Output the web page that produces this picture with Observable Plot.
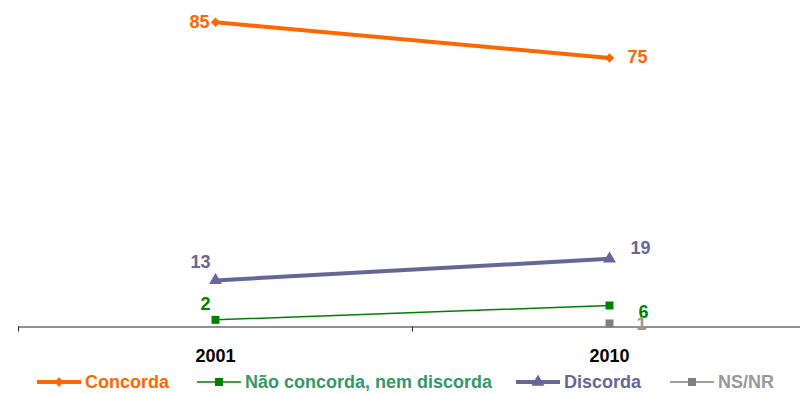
<!DOCTYPE html>
<html>
<head>
<meta charset="utf-8">
<script src="https://cdn.jsdelivr.net/npm/d3@7"></script>
<script src="https://cdn.jsdelivr.net/npm/@observablehq/plot@0.6"></script>
<style>
  body { margin: 0; background: #fff; font-family: "Liberation Sans", Arial, sans-serif; }
  #legend { position: relative; width: 800px; height: 24px; }
  .item { position: absolute; top: 0; height: 24px; display: flex; align-items: center; font-weight: bold; font-size: 18px; white-space: nowrap; }
  .item svg { margin-right: 4px; }
</style>
</head>
<body>
<div id="chart"></div>
<div id="legend"></div>
<script>
const years = ["2001", "2010"];
const seriesNames = ["Concorda", "Não concorda, nem discorda", "Discorda", "NS/NR"];
const concorda = [85, 75];
const naoConcorda = [2, 6];
const discorda = [13, 19];
const nsnr = [null, 1];

const seriesValues = [concorda, naoConcorda, discorda, nsnr];
const styles = [
  {stroke: "#FF6600", width: 4, symbol: "diamond2", r: 4.3, text: "#FF6600", legendText: "#FF6600"},
  {stroke: "#008000", width: 1.5, symbol: "square", r: 4.5, text: "#008000", legendText: "#339966"},
  {stroke: "#666699", width: 4, symbol: "triangle", r: 4.8, text: "#666699", legendText: "#666699"},
  {stroke: "#808080", width: 1.5, symbol: "square", r: 4.5, text: "#999999", legendText: "#999999"}
];
// label offsets (dx, dy, anchor) per series per year
const labelOffsets = [
  [[-6, 0, "end"], [18, -1, "start"]],
  [[-10, -16, "middle"], [34, 7, "middle"]],
  [[-15, -18, "middle"], [31, -11, "middle"]],
  [[0, 0, "middle"], [32, 1, "middle"]]
];

const data = [];
seriesValues.forEach((vals, s) => vals.forEach((v, i) => {
  if (v != null) data.push({series: seriesNames[s], s, i, x: i + 0.5, year: years[i], value: v,
    dx: labelOffsets[s][i][0], dy: labelOffsets[s][i][1], anchor: labelOffsets[s][i][2]});
}));

const marks = [
  Plot.ruleY([0], {x1: 0, x2: 2, stroke: "#222", strokeWidth: 1}),
  Plot.axisX({ticks: [0, 1, 2], tickSize: 5, tickFormat: () => "", stroke: "#222", label: null}),
  Plot.axisX({ticks: years.map((d, i) => i + 0.5), tickSize: 0, tickPadding: 22, label: null,
    tickFormat: (d) => years[Math.floor(d)], fontSize: 18, fontWeight: "bold", fill: "#000"})
];
seriesNames.forEach((name, s) => {
  const d = data.filter(e => e.s === s);
  const st = styles[s];
  marks.push(Plot.line(d, {x: "x", y: "value", stroke: st.stroke, strokeWidth: st.width}));
  marks.push(Plot.dot(d, {x: "x", y: "value", symbol: () => st.symbol, r: st.r, fill: st.stroke, stroke: "none"}));
  d.forEach(e => {
    marks.push(Plot.text([e], {x: "x", y: "value", text: e => String(e.value), dx: e.dx, dy: e.dy,
      textAnchor: e.anchor, fill: st.text, fontSize: 18, fontWeight: "bold"}));
  });
});

const chart = Plot.plot({
  width: 800,
  height: 370,
  marginTop: 21.7,
  marginBottom: 43.5,
  marginLeft: 0,
  marginRight: 0,
  style: {fontFamily: "Liberation Sans, Arial, sans-serif", background: "#fff", overflow: "visible"},
  x: {type: "linear", domain: [0, 2], range: [18, 806], axis: null, label: null},
  y: {domain: [0, 85], axis: null},
  symbol: {type: "identity"},
  marks
});
document.getElementById("chart").appendChild(chart);

// legend
const legendLefts = [37, 197, 516, 670];
const legend = document.getElementById("legend");
seriesNames.forEach((name, s) => {
  const st = styles[s];
  const item = document.createElement("div");
  item.className = "item";
  item.style.left = legendLefts[s] + "px";
  const sw = d3.create("svg").attr("width", 44).attr("height", 14);
  sw.append("line").attr("x1", 0).attr("x2", 44).attr("y1", 7).attr("y2", 7)
    .attr("stroke", st.stroke).attr("stroke-width", st.width === 4 ? 4 : 1.5);
  const sym = {diamond2: d3.symbolDiamond2, square: d3.symbolSquare, triangle: d3.symbolTriangle}[st.symbol];
  sw.append("path").attr("d", d3.symbol(sym, Math.PI * st.r * st.r)()).attr("transform", "translate(22,7)")
    .attr("fill", st.stroke);
  item.appendChild(sw.node());
  const t = document.createElement("span");
  t.textContent = name;
  t.style.color = st.legendText;
  item.appendChild(t);
  legend.appendChild(item);
});
</script>
</body>
</html>
